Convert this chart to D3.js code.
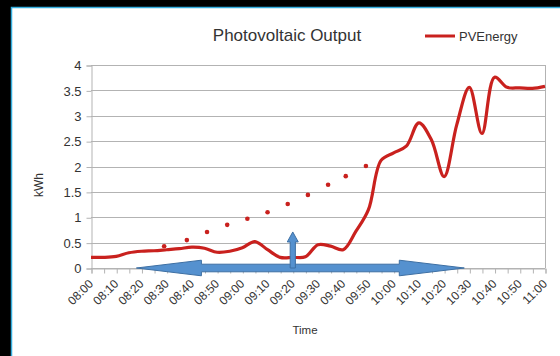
<!DOCTYPE html>
<html>
<head>
<meta charset="utf-8">
<script src="https://cdn.jsdelivr.net/npm/d3@7"></script>
<style>
  html, body { margin: 0; padding: 0; background: #000; }
  svg { display: block; }
  text { font-family: "Liberation Sans", Arial, sans-serif; fill: #333; }
</style>
</head>
<body>
<svg></svg>
<script>
// PV output (kWh)
const times = ["08:00","08:05","08:10","08:15","08:20","08:25","08:30","08:35","08:40","08:45",
               "08:50","08:55","09:00","09:05","09:10","09:15","09:20","09:25","09:30","09:35",
               "09:40","09:45","09:50","09:55","10:00","10:05","10:10","10:15","10:20","10:25",
               "10:30","10:35","10:40","10:45","10:50","10:55","11:00"]
const pvEnergy = [0.21,0.21,0.23,0.30,0.33,0.34,0.36,0.38,0.41,0.39,
                  0.31,0.33,0.40,0.52,0.36,0.21,0.21,0.22,0.46,0.43,
                  0.36,0.72,1.15,2.12,2.27,2.40,2.86,2.52,1.80,2.82,
                  3.56,2.65,3.76,3.56,3.55,3.54,3.58]

// dotted trend drawn over the chart
const trendTimes = ["08:29","08:38","08:46","08:54","09:02","09:10","09:18","09:26","09:34","09:41","09:49"]
const trendValues = [0.43,0.55,0.71,0.85,0.97,1.10,1.26,1.44,1.64,1.81,2.01]

// blue arrows (time span and marker)
const spanArrow = ["08:18", "10:28"]
const markArrow = ["09:20", 0.71]

const xTickLabels = ["08:00","08:10","08:20","08:30","08:40","08:50","09:00","09:10","09:20","09:30",
                     "09:40","09:50","10:00","10:10","10:20","10:30","10:40","10:50","11:00"]
const yTicks = [0, 0.5, 1, 1.5, 2, 2.5, 3, 3.5, 4]

const width = 560
const height = 356
const plot = { left: 91, right: 545, top: 65, bottom: 268 }

const parseTime = d3.timeParse("%H:%M")
const fmt = d3.timeFormat("%H:%M")

let svg = d3.select("svg").attr("width", width).attr("height", height)

// page frame
svg.append("rect").attr("width", width).attr("height", height).attr("fill", "#000")
svg.append("rect")
    .attr("x", 11.5).attr("y", 7.5)
    .attr("width", width).attr("height", height)
    .attr("fill", "#fff")
    .attr("stroke", "#35aede")
    .attr("stroke-width", 1.5)

const xScale = d3.scaleTime()
    .domain([parseTime("08:00"), parseTime("11:00")])
    .range([plot.left, plot.right])

const yScale = d3.scaleLinear()
    .domain([0, 4])
    .range([plot.bottom, plot.top])

// horizontal grid
svg.append("g")
    .selectAll("line")
    .data(yTicks)
    .enter()
    .append("line")
    .attr("x1", plot.left).attr("x2", plot.right)
    .attr("y1", d => Math.round(yScale(d)) + 0.5)
    .attr("y2", d => Math.round(yScale(d)) + 0.5)
    .attr("stroke", "#b3b3b3")

// right border of the plot area
svg.append("line")
    .attr("x1", plot.right + 0.5).attr("x2", plot.right + 0.5)
    .attr("y1", plot.top).attr("y2", plot.bottom)
    .attr("stroke", "#b3b3b3")

// y axis
let yAxis = d3.axisLeft(yScale).tickValues(yTicks).tickSize(5).tickPadding(5).tickFormat(d3.format("~g"))
let yG = svg.append("g")
    .attr("transform", "translate(" + (plot.left + 0.5) + ",0.5)")
    .call(yAxis)
yG.selectAll("path, line").attr("stroke", "#b3b3b3")
yG.selectAll("text").attr("font-size", 13).attr("fill", "#333")
    .style("font-family", "'Liberation Sans', Arial, sans-serif")

// x axis, ticks every 5 minutes, labels every 10
const xTickValues = d3.timeMinute.every(5).range(parseTime("08:00"), d3.timeMinute.offset(parseTime("11:00"), 1))
let xAxis = d3.axisBottom(xScale)
    .tickValues(xTickValues)
    .tickSize(5)
    .tickFormat(d => xTickLabels.includes(fmt(d)) ? fmt(d) : "")
let xG = svg.append("g")
    .attr("transform", "translate(0.5," + (plot.bottom + 0.5) + ")")
    .call(xAxis)
xG.select(".domain").attr("stroke", "#b3b3b3")
xG.selectAll("line").attr("stroke", "#b3b3b3")
xG.selectAll("text")
    .attr("font-size", 12)
    .attr("fill", "#333")
    .style("font-family", "'Liberation Sans', Arial, sans-serif")
    .attr("text-anchor", "end")
    .attr("y", 0).attr("dy", "0.35em")
    .attr("transform", "translate(-1,13) rotate(-45)")

// PV line
const line = d3.line()
    .x((d, i) => xScale(parseTime(times[i])))
    .y(d => yScale(d))
    .curve(d3.curveCatmullRom.alpha(0.5))

svg.append("path")
    .datum(pvEnergy)
    .attr("d", line)
    .attr("fill", "none")
    .attr("stroke", "#c9211e")
    .attr("stroke-width", 3.2)
    .attr("stroke-linejoin", "round")

// dotted trend
svg.append("g")
    .selectAll("circle")
    .data(trendValues)
    .enter()
    .append("circle")
    .attr("cx", (d, i) => xScale(parseTime(trendTimes[i])))
    .attr("cy", d => yScale(d))
    .attr("r", 2.3)
    .attr("fill", "#c9211e")

// arrows
const arrowFill = "#5591cf"
const arrowStroke = "#3d6fa3"

const ax1 = xScale(parseTime(spanArrow[0]))
const ax2 = xScale(parseTime(spanArrow[1]))
const ay = yScale(0)
const headLen = 65, headHalf = 7.8, shaftHalf = 3.8
svg.append("path")
    .attr("d", d3.line()([
        [ax1, ay], [ax1 + headLen, ay - headHalf], [ax1 + headLen, ay - shaftHalf],
        [ax2 - headLen, ay - shaftHalf], [ax2 - headLen, ay - headHalf], [ax2, ay],
        [ax2 - headLen, ay + headHalf], [ax2 - headLen, ay + shaftHalf],
        [ax1 + headLen, ay + shaftHalf], [ax1 + headLen, ay + headHalf]
    ]) + "Z")
    .attr("fill", arrowFill)
    .attr("stroke", arrowStroke)
    .attr("stroke-width", 1)

const vx = xScale(parseTime(markArrow[0]))
const vTop = yScale(markArrow[1])
const vHeadLen = 10, vHeadHalf = 5.5, vShaftHalf = 2.6
svg.append("path")
    .attr("d", d3.line()([
        [vx, vTop], [vx + vHeadHalf, vTop + vHeadLen], [vx + vShaftHalf, vTop + vHeadLen],
        [vx + vShaftHalf, ay], [vx - vShaftHalf, ay], [vx - vShaftHalf, vTop + vHeadLen],
        [vx - vHeadHalf, vTop + vHeadLen]
    ]) + "Z")
    .attr("fill", arrowFill)
    .attr("stroke", arrowStroke)
    .attr("stroke-width", 1)

// titles
svg.append("text")
    .attr("x", 287).attr("y", 41)
    .attr("text-anchor", "middle")
    .attr("font-size", 17)
    .text("Photovoltaic Output")

svg.append("text")
    .attr("x", 305).attr("y", 334)
    .attr("text-anchor", "middle")
    .attr("font-size", 11.5)
    .text("Time")

svg.append("text")
    .attr("transform", "translate(43,185) rotate(-90)")
    .attr("text-anchor", "middle")
    .attr("font-size", 12)
    .text("kWh")

// legend
svg.append("line")
    .attr("x1", 425).attr("x2", 455)
    .attr("y1", 36).attr("y2", 36)
    .attr("stroke", "#c9211e")
    .attr("stroke-width", 3)
svg.append("text")
    .attr("x", 459).attr("y", 41)
    .attr("font-size", 13)
    .text("PVEnergy")
</script>
</body>
</html>
